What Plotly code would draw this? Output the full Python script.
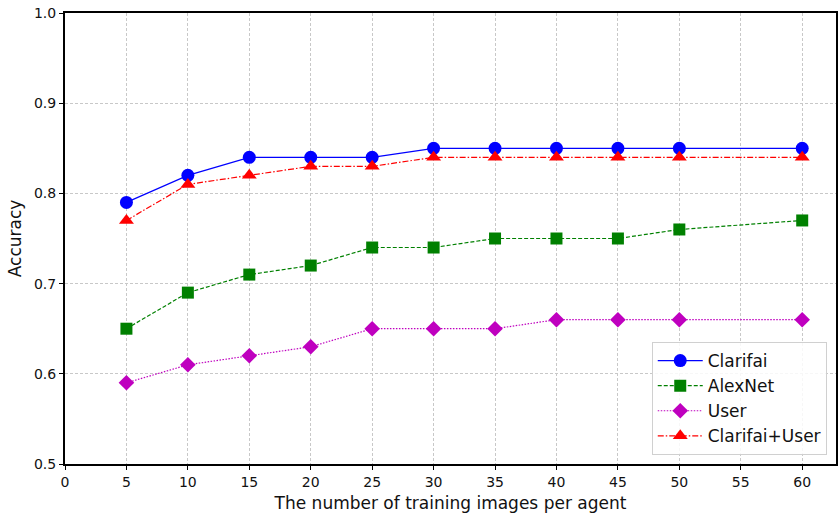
import plotly.graph_objects as go

x_vals = [5, 10, 15, 20, 25, 30, 35, 40, 45, 50, 60]
clarifai = [0.79, 0.82, 0.84, 0.84, 0.84, 0.85, 0.85, 0.85, 0.85, 0.85, 0.85]
alexnet = [0.65, 0.69, 0.71, 0.72, 0.74, 0.74, 0.75, 0.75, 0.75, 0.76, 0.77]
user = [0.59, 0.61, 0.62, 0.63, 0.65, 0.65, 0.65, 0.66, 0.66, 0.66, 0.66]
clarifai_user = [0.77, 0.81, 0.82, 0.83, 0.83, 0.84, 0.84, 0.84, 0.84, 0.84, 0.84]

x_ticks = list(range(0, 61, 5))
y_ticks = [0.5, 0.6, 0.7, 0.8, 0.9, 1.0]

series = [
    ("Clarifai", clarifai, "#0000ff", "solid", "circle", 13),
    ("AlexNet", alexnet, "#008000", "4px,2px", "square", 12),
    ("User", user, "#bf00bf", "1.5px,1.5px", "diamond", 12),
    ("Clarifai+User", clarifai_user, "#ff0000", "6px,2px,1.5px,2px", "triangle-up", 13),
]

fig = go.Figure()
for name, ys, color, dash, sym, size in series:
    fig.add_trace(go.Scatter(
        x=x_vals, y=ys, name=name, mode="lines+markers",
        line=dict(color=color, width=1.2, dash=dash),
        marker=dict(symbol=sym, size=size, color=color, line=dict(width=0)),
    ))

fig.update_layout(
    width=838, height=515,
    margin=dict(l=65, r=0, t=13, b=51),
    plot_bgcolor="white", paper_bgcolor="white",
    font=dict(family="DejaVu Sans", size=14, color="#111"),
    showlegend=True,
    legend=dict(
        x=0.988, y=0.02, xanchor="right", yanchor="bottom",
        bgcolor="rgba(255,255,255,0.85)", bordercolor="#d0d0d0", borderwidth=1,
        font=dict(family="DejaVu Sans", size=17, color="#111"),
        itemwidth=45, tracegroupgap=0,
    ),
    xaxis=dict(
        range=[0, 62.75], tickmode="array", tickvals=x_ticks,
        showline=True, linecolor="black", linewidth=2, mirror=True,
        ticks="outside", ticklen=4, tickwidth=1.2, tickcolor="black",
        showgrid=True, gridcolor="#c8c8c8", griddash="3px,2px", gridwidth=0.8,
        zeroline=False,
        title=dict(text="The number of training images per agent", font=dict(size=17), standoff=8),
        tickfont=dict(size=14),
    ),
    yaxis=dict(
        range=[0.5, 1.0], tickmode="array", tickvals=y_ticks,
        tickformat=".1f",
        showline=True, linecolor="black", linewidth=2, mirror=True,
        ticks="outside", ticklen=4, tickwidth=1.2, tickcolor="black",
        showgrid=True, gridcolor="#c8c8c8", griddash="3px,2px", gridwidth=0.8,
        zeroline=False,
        title=dict(text="Accuracy", font=dict(size=17), standoff=8),
        tickfont=dict(size=14),
    ),
)

fig.write_html("out.html")
